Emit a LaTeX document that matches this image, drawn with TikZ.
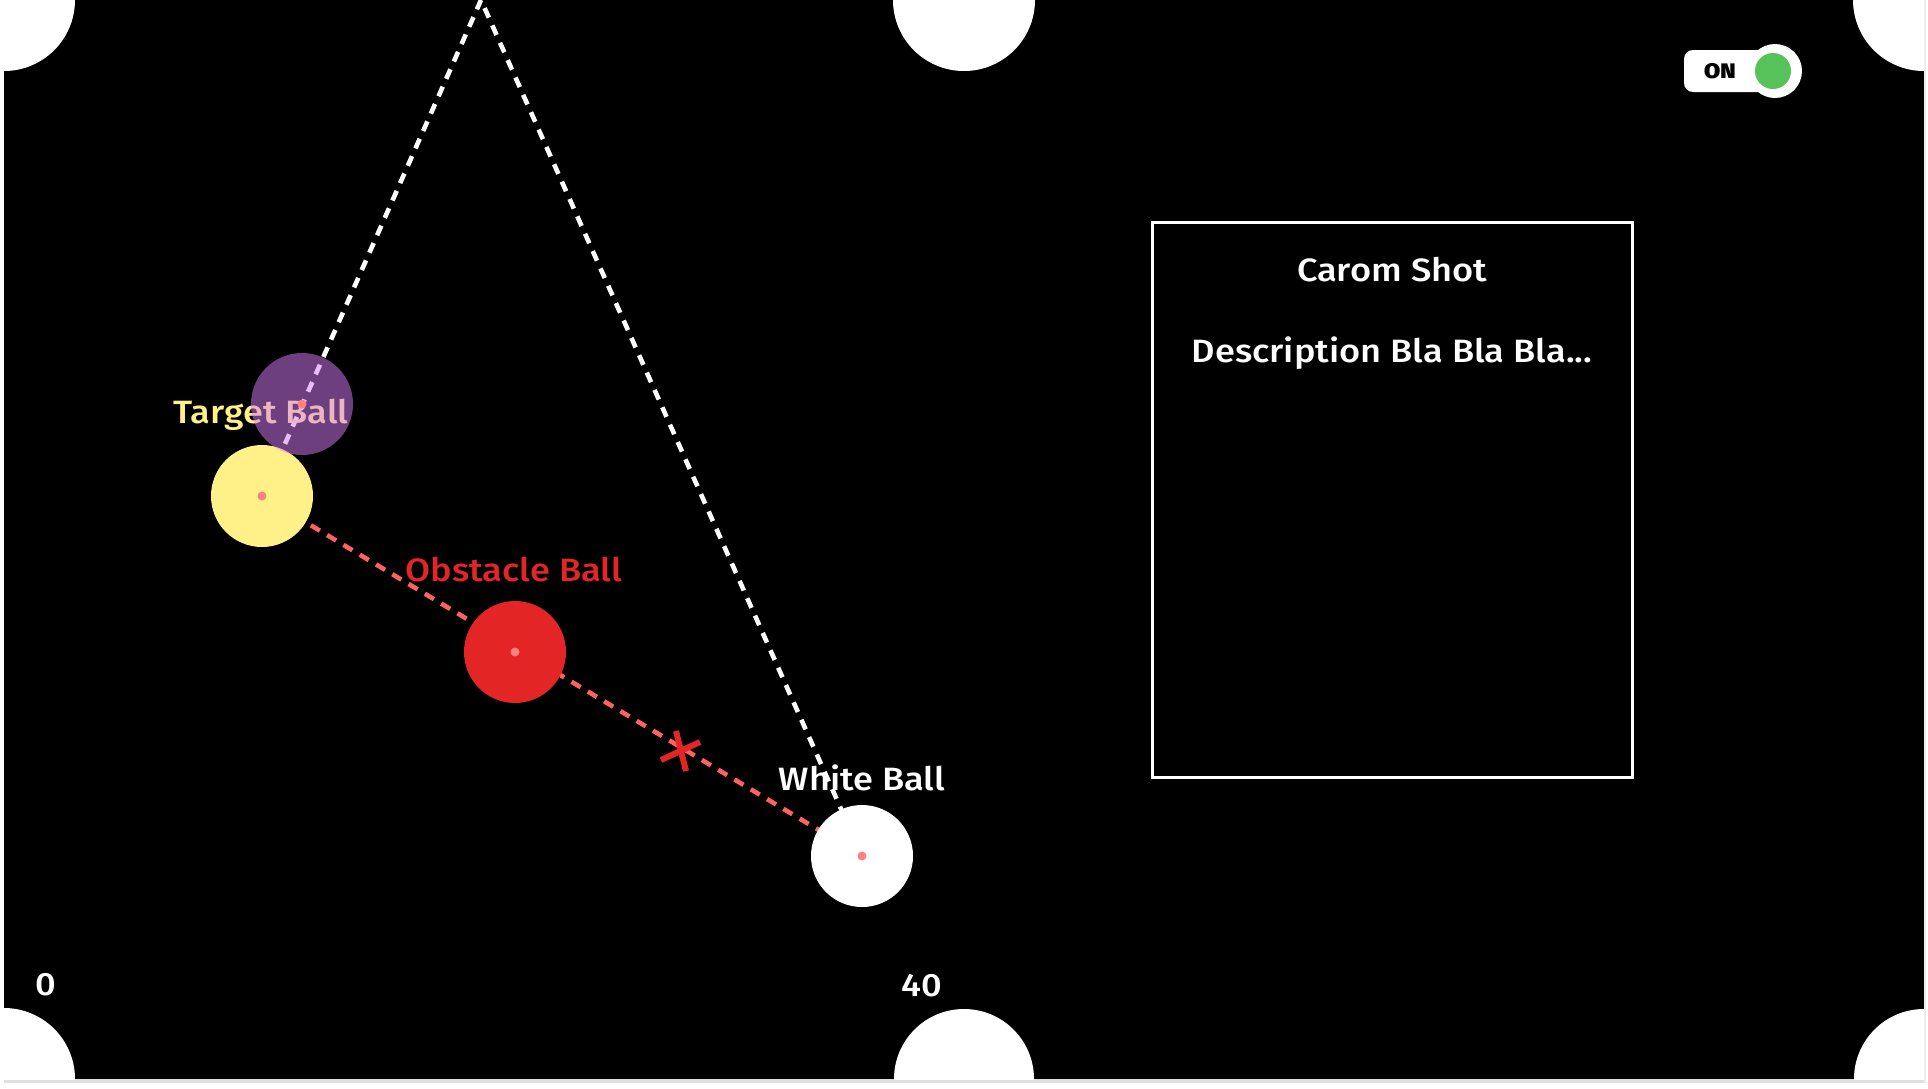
\documentclass[tikz,border=0pt]{standalone}
\usepackage{fontspec}
\setmainfont{Fira Sans}[UprightFont=* Medium, BoldFont=* Black, FakeStretch=1.12]
\definecolor{ballyellow}{RGB}{255,240,135}
\definecolor{ballred}{RGB}{227,37,38}
\definecolor{dotpink}{RGB}{255,128,128}
\definecolor{linered}{RGB}{255,96,96}
\definecolor{ghost}{RGB}{216,125,251}
\definecolor{toggreen}{RGB}{87,194,90}
\tikzset{
  ball/.style={circle, minimum size=102pt, inner sep=0pt},
  cdot/.style={circle, fill=dotpink, minimum size=9pt, inner sep=0pt},
  pocket/.style={fill=white},
  lbl/.style={anchor=base, inner sep=0pt, font=\fontsize{32.3}{38}\selectfont},
  whitedash/.style={white, line width=4.6pt, dash pattern=on 10.5pt off 8.5pt},
  reddash/.style={linered, line width=4.6pt, dash pattern=on 10.5pt off 8.5pt},
}
\begin{document}
\begin{tikzpicture}[x=1pt,y=-1pt]
\useasboundingbox (0,0) rectangle (1928,1088);
\fill[white] (0,0) rectangle (1928,1088);
\fill[gray!25] (4,1079) rectangle (1926,1083);
\fill[gray!15] (1924,0) rectangle (1926,1083);
\fill[black] (4,0) rectangle (1924,1079);
% pockets
\begin{scope}
\clip (4,0) rectangle (1924,1079);
\fill[pocket] (4,0) circle[radius=71pt];
\fill[pocket] (964,0) circle[radius=71pt];
\fill[pocket] (1924,0) circle[radius=71pt];
\fill[pocket] (4,1079) circle[radius=71pt];
\fill[pocket] (964,1079) circle[radius=70pt];
\fill[pocket] (1924,1079) circle[radius=70pt];
\end{scope}
% coordinates
\coordinate (apex) at (481,0);
\coordinate (ptarget) at (262,496);
\coordinate (pghost) at (302,404);
\coordinate (pobst) at (515,652);
\coordinate (pwhite) at (862,856);
% lines
\draw[reddash] (ptarget) -- (pwhite);
\draw[whitedash] (ptarget) -- (apex) -- (pwhite);
% labels
\node[lbl, text=ballyellow] (ltarget) at (261,423) {Target Ball};
\node[lbl, text=ballred] (lobst) at (514,581) {Obstacle Ball};
\node[lbl, text=white] (lwhite) at (862,790) {White Ball};
% balls
\node[ball, fill=ballyellow] (target) at (ptarget) {};
\node[ball, fill=ballred] (obst) at (pobst) {};
\node[ball, fill=white] (white) at (pwhite) {};
\node[ball, fill=ghost, fill opacity=0.51] (ghostball) at (pghost) {};
\node[cdot] (dtarget) at (ptarget) {};
\node[cdot] (dghost) at (pghost) {};
\node[cdot] (dobst) at (pobst) {};
\node[cdot] (dwhite) at (pwhite) {};
% X mark
\coordinate (xa1) at (676,731);
\coordinate (xa2) at (686,771);
\coordinate (xb1) at (661,760);
\coordinate (xb2) at (700,742);
\draw[ballred, line width=6pt] (xa1) -- (xa2);
\draw[ballred, line width=6pt] (xb1) -- (xb2);
% info box
\node[draw=white, line width=3pt, minimum width=480pt, minimum height=555pt, inner sep=0pt] (box) at (1392,499.5) {};
\node[lbl, text=white] (title) at (1392,281) {Carom Shot};
\node[lbl, text=white] (desc) at (1392,362) {Description Bla Bla Bla...};
% numbers
\node[lbl, text=white] (n0) at (46,995) {0};
\node[lbl, text=white] (n40) at (922,996) {40};
% toggle
\fill[white, rounded corners=9pt] (1684,50) rectangle (1778,92);
\node[circle, fill=white, minimum size=54pt, inner sep=0pt] (knob) at (1775,71) {};
\node[circle, fill=toggreen, minimum size=36pt, inner sep=0pt] (knobin) at (1773,71) {};
\node[anchor=base, inner sep=0pt, text=black, font=\bfseries\fontsize{21}{24}\selectfont] (on) at (1720,78) {ON};
\end{tikzpicture}
\end{document}
